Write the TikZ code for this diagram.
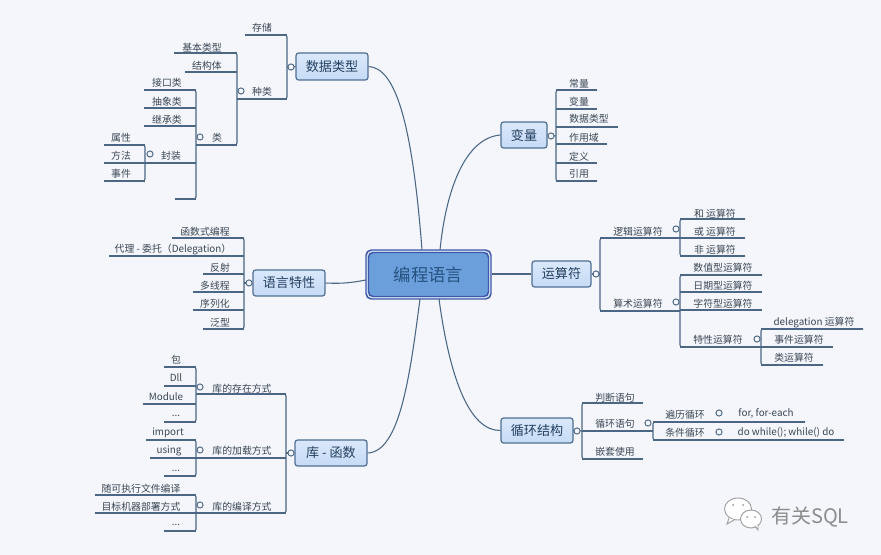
\documentclass[tikz,border=0pt]{standalone}
\usepackage{fontspec}
\setmainfont{Noto Sans CJK SC}
\definecolor{bgc}{HTML}{F4F6FC}
\definecolor{linec}{HTML}{4C6785}
\definecolor{txtc}{HTML}{3A4652}
\definecolor{boxd}{HTML}{4F6E93}
\definecolor{DAE8FB}{HTML}{DAE8FB}
\definecolor{C6DBF6}{HTML}{C6DBF6}
\definecolor{D5E3F6}{HTML}{D5E3F6}
\definecolor{6A9FDC}{HTML}{6A9FDC}
\definecolor{25527F}{HTML}{25527F}
\definecolor{topictxt}{HTML}{23405F}
\tikzset{
  lbl/.style={inner sep=0pt,text=txtc,yshift=-0.6pt,font=\fontsize{7.4}{9}\selectfont},
  branch/.style={draw=linec,line width=0.85pt,rounded corners=1.6pt},
  ul/.style={draw=linec,line width=0.85pt},
  curve/.style={draw=linec,line width=0.8pt},
  hub/.style={circle,draw=linec,line width=0.7pt,fill=bgc,minimum size=4.6pt,inner sep=0pt},
  topic/.style={draw=boxd,line width=0.9pt,rounded corners=2pt,top color=DAE8FB,bottom color=C6DBF6,text=topictxt,inner sep=0pt,font=\fontsize{9.8}{12}\selectfont},
  rootouter/.style={draw=boxd!80!blue,line width=1.1pt,rounded corners=4pt,fill=D5E3F6,inner sep=0pt},
  rootinner/.style={draw=boxd!80!blue,line width=1.1pt,rounded corners=3.5pt,fill=6A9FDC,inner sep=0pt,text=25527F,font=\fontsize{13}{15}\selectfont},
  mark1/.style={draw=gray!75,fill=white,line width=0.7pt},
}
% name, x-left, x-right, y-line, text-x, text-y, text
\newcommand\leafitem[7]{%
  \coordinate (#1-l) at (#2,#4);
  \coordinate (#1-r) at (#3,#4);
  \node[lbl] (#1) at (#5,#6) {#7};
  \draw[ul] (#1-l) -- (#1-r);
}
% name, cx, cy, w, h, text
\newcommand\topicbox[6]{%
  \node[topic,minimum width=#4*0.75pt,minimum height=#5*0.75pt] (#1) at (#2,#3) {#6};
}
\begin{document}
\begin{tikzpicture}[x=0.75pt,y=-0.75pt]
\useasboundingbox (0,0) rectangle (881,555);
\fill[bgc] (0,0) rectangle (881,555);

% root
\node[rootouter,minimum width=125*0.75pt,minimum height=49*0.75pt] (rootb) at (428.5,274.5) {};
\node[rootinner,minimum width=120*0.75pt,minimum height=44*0.75pt] (root) at (428.5,274.5) {编程语言};

% topics
\topicbox{data}{332}{66.5}{72}{27}{数据类型}
\topicbox{lang}{289}{283}{72}{26}{语言特性}
\topicbox{lib}{331}{453}{72}{26}{库 - 函数}
\topicbox{var}{524}{135}{46}{26}{变量}
\topicbox{ops}{561.5}{274}{59}{26}{运算符}
\topicbox{loop}{537}{430.5}{72}{25}{循环结构}

% curves
\coordinate (rt1) at (422,250); \coordinate (rt2) at (440,250);
\coordinate (rb1) at (420,299); \coordinate (rb2) at (439,299);
\coordinate (rl1) at (366,280);
\draw[curve] (data.east) .. controls (395,68) and (412,120) .. (rt1);
\draw[curve] (rt2) .. controls (446,190) and (465,138) .. (var.west);
\draw[curve] (rb1) .. controls (410,375) and (400,452) .. (lib.east);
\draw[curve] (rb2) .. controls (450,380) and (470,431) .. (loop.west);
\draw[curve] (lang.east) .. controls (345,284) and (355,282) .. (rl1);
\draw[curve] (rootb.east |- ops.west) -- (ops.west);

% ---------- data types
\leafitem{d1}{245}{287}{35}{262}{27}{存储}
\leafitem{d2}{237}{287}{99}{262}{91}{种类}
\draw[branch] (d1-l) -- (d1-r) -- (d2-r) -- (d2-l);
\leafitem{d21}{174}{237}{53}{202}{47}{基本类型}
\leafitem{d22}{185}{237}{72}{207}{65}{结构体}
\leafitem{d23}{196}{237}{145}{217}{137}{类}
\draw[branch] (d21-l) -- (d21-r) -- (d23-r) -- (d23-l);
\leafitem{d31}{144}{196}{90}{167}{82}{接口类}
\leafitem{d32}{144}{196}{108}{167}{101}{抽象类}
\leafitem{d33}{144}{196}{126}{167}{119}{继承类}
\leafitem{d34}{145}{196}{163}{171}{155}{封装}
\leafitem{d35}{175}{196}{199}{185}{190}{}
\draw[branch] (d31-l) -- (d31-r) -- (d35-r) -- (d35-l);
\leafitem{d41}{104}{145}{145}{121}{137}{属性}
\leafitem{d42}{104}{145}{163}{121}{155}{方法}
\leafitem{d43}{104}{145}{181}{121}{173}{事件}
\draw[branch] (d41-l) -- (d41-r) -- (d43-r) -- (d43-l);
\coordinate (hd1j) at (287,67);
\draw[ul] (data.west) -- (hd1j);
\node[hub] (hd1) at (291,67) {};
\node[hub] (hd2) at (241,91) {};
\node[hub] (hd3) at (200,137) {};
\node[hub] (hd4) at (150,154) {};

% ---------- language
\leafitem{g1}{172}{244}{238}{205}{231}{函数式编程}
\leafitem{g2}{109}{244}{256}{173}{249}{代理 - 委托（Delegation）}
\leafitem{g3}{203}{244}{274}{220}{267}{反射}
\leafitem{g4}{193}{244}{292}{215}{285}{多线程}
\leafitem{g5}{193}{244}{310}{215}{303}{序列化}
\leafitem{g6}{203}{244}{329}{220}{322}{泛型}
\draw[branch] (g1-l) -- (g1-r) -- (g6-r) -- (g6-l);
\coordinate (hgj) at (244,283);
\draw[ul] (lang.west) -- (hgj);
\node[hub] (hg) at (249,283) {};

% ---------- library
\leafitem{l1}{196}{286}{394}{242}{388}{库的存在方式}
\leafitem{l2}{196}{286}{458}{242}{450}{库的加载方式}
\leafitem{l3}{196}{286}{513}{242}{506}{库的编译方式}
\draw[branch] (l1-l) -- (l1-r) -- (l3-r) -- (l3-l);
\leafitem{l11}{164}{196}{367}{176}{359}{包}
\leafitem{l12}{164}{196}{386}{176}{377}{Dll}
\leafitem{l13}{143}{196}{404}{166}{396}{Module}
\leafitem{l14}{164}{196}{422}{176}{415}{...}
\draw[branch] (l11-l) -- (l11-r) -- (l14-r) -- (l14-l);
\leafitem{l21}{146}{196}{440}{168}{432}{import}
\leafitem{l22}{150}{196}{458}{169}{450}{using}
\leafitem{l23}{164}{196}{476}{176}{470}{...}
\draw[branch] (l21-l) -- (l21-r) -- (l23-r) -- (l23-l);
\leafitem{l31}{95}{196}{495}{141}{488}{随可执行文件编译}
\leafitem{l32}{95}{196}{513}{141}{506}{目标机器部署方式}
\leafitem{l33}{164}{196}{531}{176}{524}{...}
\draw[branch] (l31-l) -- (l31-r) -- (l33-r) -- (l33-l);
\coordinate (hlj) at (286,453);
\draw[ul] (lib.west) -- (hlj);
\node[hub] (hl) at (291,453) {};
\node[hub] (hl1) at (200,387) {};
\node[hub] (hl2) at (200,450) {};
\node[hub] (hl3) at (200,505) {};

% ---------- variable
\leafitem{v1}{556}{597}{90}{579}{83}{常量}
\leafitem{v2}{556}{597}{109}{579}{101}{变量}
\leafitem{v3}{556}{618}{127}{589}{118}{数据类型}
\leafitem{v4}{556}{607}{144}{584}{137}{作用域}
\leafitem{v5}{556}{597}{163}{579}{156}{定义}
\leafitem{v6}{556}{597}{181}{579}{173}{引用}
\draw[branch] (v1-r) -- (v1-l) -- (v6-l) -- (v6-r);
\coordinate (hvj) at (556,136);
\draw[ul] (var.east) -- (hvj);
\node[hub] (hv) at (551,136) {};

% ---------- operators
\leafitem{o1}{600}{680}{238}{638}{231}{逻辑运算符}
\leafitem{o2}{600}{680}{311}{638}{303}{算术运算符}
\draw[branch] (o1-r) -- (o1-l) -- (o2-l) -- (o2-r);
\leafitem{o11}{680}{745}{219}{715}{213}{和 运算符}
\leafitem{o12}{680}{745}{238}{715}{231}{或 运算符}
\leafitem{o13}{680}{745}{256}{715}{249}{非 运算符}
\draw[branch] (o11-r) -- (o11-l) -- (o13-l) -- (o13-r);
\leafitem{o21}{680}{762}{275}{723}{267}{数值型运算符}
\leafitem{o22}{680}{762}{292}{723}{285}{日期型运算符}
\leafitem{o23}{680}{762}{310}{723}{303}{字符型运算符}
\leafitem{o24}{680}{761}{347}{718}{339}{特性运算符}
\draw[branch] (o21-r) -- (o21-l) -- (o24-l) -- (o24-r);
\leafitem{o31}{761}{863}{329}{814}{322}{delegation 运算符}
\leafitem{o32}{761}{833}{347}{799}{339}{事件运算符}
\leafitem{o33}{761}{823}{365}{794}{357}{类运算符}
\draw[branch] (o31-r) -- (o31-l) -- (o33-l) -- (o33-r);
\coordinate (hoj) at (600,274);
\draw[ul] (ops.east) -- (hoj);
\node[hub] (ho) at (596,274) {};
\node[hub] (ho1) at (676,229) {};
\node[hub] (ho2) at (676,302) {};
\node[hub] (ho3) at (757,339) {};

% ---------- loops
\leafitem{c1}{582}{643}{403}{615}{397}{判断语句}
\leafitem{c2}{582}{653}{431}{615}{423}{循环语句}
\leafitem{c3}{582}{643}{459}{615}{451}{嵌套使用}
\draw[branch] (c1-r) -- (c1-l) -- (c3-l) -- (c3-r);
\leafitem{c21}{653}{805}{422}{685}{414}{遍历循环}
\leafitem{c22}{653}{844}{440}{685}{432}{条件循环}
\draw[branch] (c21-r) -- (c21-l) -- (c22-l) -- (c22-r);
\node[lbl] (c211) at (766,413) {for, for-each};
\node[lbl] (c221) at (786,432) {do while(); while() do};
\coordinate (hcj) at (582,431);
\draw[ul] (loop.east) -- (hcj);
\node[hub] (hc) at (577,431) {};
\node[hub] (hc2) at (648,423) {};
\node[hub] (hc21) at (719,413) {};
\node[hub] (hc22) at (719,432) {};

% watermark
\draw[mark1] (738,509) ellipse (13.5 and 11);
\draw[mark1] (729,518) -- (727,524) -- (734,520);
\draw[mark1] (751,519) ellipse (10.5 and 9);
\draw[mark1] (755,526) -- (758,530) -- (758,524);
\fill[gray!80] (733,505) circle (1) (743,505) circle (1) (747,517) circle (1) (755,517) circle (1);
\node[inner sep=0pt,text=gray!90,font=\fontsize{15}{18}\selectfont] (wm) at (810,517) {有关SQL};
\end{tikzpicture}
\end{document}
